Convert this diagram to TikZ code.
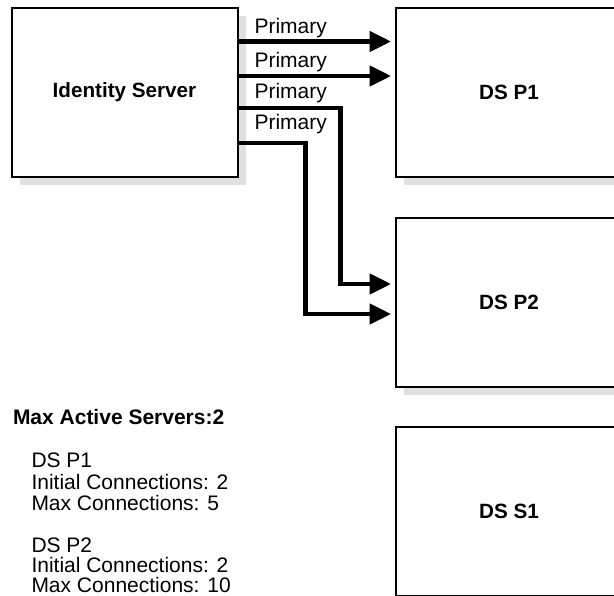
\documentclass[tikz,border=0pt]{standalone}
\usepackage{fontspec}
\setmainfont{Liberation Sans}
\usetikzlibrary{arrows.meta,shadows,calc}

\tikzset{every picture/.style={line width=0.75pt}}
\tikzset{
  server/.style={draw, line width=1.5, fill=white, inner sep=0pt,
    minimum width=169.5pt, minimum height=126.75pt,
    font=\fontsize{15.5}{18}\selectfont\bfseries,
    drop shadow={shadow xshift=6pt, shadow yshift=-6pt, fill=black!12, opacity=1}},
  conn/.style={line width=3.2, line join=miter, -{Triangle[length=16pt,width=15pt]}, shorten >=3pt},
  lbl/.style={anchor=base west, inner sep=0pt, font=\fontsize{15.75}{19}\selectfont},
}

\begin{document}
\begin{tikzpicture}[x=0.75pt,y=0.75pt,yscale=-1,xscale=1]
	\useasboundingbox (0,0) rectangle (614,596);
	\clip (0,0) rectangle (614,596);
	
	% Boxes
	\node [server] (idsrv) at (124.5,92.5) {Identity Server};
	\node [server] (dsp1) at (509,92.5) {DS P1};
	\node [server] (dsp2) at (509,302.5) {DS P2};
	\node [server] (dss1) at (509,511) {DS S1};
	
	% Connections
	\draw [conn] ($(idsrv.east)+(0,-51)$) -- ($(dsp1.west)+(0,-51)$) ;
	\draw [conn] ($(idsrv.east)+(0,-16.5)$) -- ($(dsp1.west)+(0,-16.5)$) ;
	\draw [conn] ($(idsrv.east)+(0,15.5)$) -| ($(dsp2.west)+(-54.5,-18.5)$) -- ($(dsp2.west)+(0,-18.5)$) ;
	\draw [conn] ($(idsrv.east)+(0,50.5)$) -| ($(dsp2.west)+(-89.5,11.5)$) -- ($(dsp2.west)+(0,11.5)$) ;
	
	% Text Node
	\node [lbl] (prim1) at (254,33) {Primary};
	% Text Node
	\node [lbl] (prim2) at (254,67) {Primary};
	% Text Node
	\node [lbl] (prim3) at (254,98.5) {Primary};
	% Text Node
	\node [lbl] (prim4) at (254,129.5) {Primary};
	
	% Text Node
	\node [lbl, font=\fontsize{15.75}{19}\selectfont\bfseries] (maxact) at (12.5,424) {Max Active Servers:2};
	% Text Node
	\node [lbl] (p1name) at (31,467.5) {DS P1};
	% Text Node
	\node [lbl] (p1init) at (31,489) {Initial Connections: 2};
	% Text Node
	\node [lbl] (p1max) at (31,510) {Max Connections: 5};
	% Text Node
	\node [lbl] (p2name) at (31,552) {DS P2};
	% Text Node
	\node [lbl] (p2init) at (31,572.5) {Initial Connections: 2};
	% Text Node
	\node [lbl] (p2max) at (31,592) {Max Connections: 10};
	
\end{tikzpicture}
\end{document}
